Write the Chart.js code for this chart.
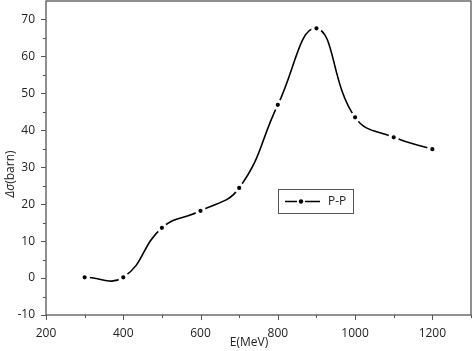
<!DOCTYPE html>
<html>
<head>
<meta charset="utf-8">
<script src="https://cdn.jsdelivr.net/npm/chart.js@4"></script>
<style>
    html, body { margin: 0; padding: 0; background: #fff; }
    #wrap { width: 472px; height: 351px; }
</style>
</head>
<body>
<div id="wrap"><canvas id="chart"></canvas></div>
<script>
const energy = [300, 400, 500, 600, 700, 800, 900, 1000, 1100, 1200];
const deltaSigma = [0.2, 0.2, 13.6, 18.2, 24.4, 46.9, 67.6, 43.5, 38.1, 34.9];
const xTickValues = [200, 400, 600, 800, 1000, 1200];
const yTickValues = [-10, 0, 10, 20, 30, 40, 50, 60, 70];
const seriesName = 'P-P';
const xTitle = 'E(MeV)';
const yTitleItalic = 'Δσ';
const yTitleRest = '(barn)';

const FONT = '"Open Sans", sans-serif';
const frameColor = '#555';

// frame, tick marks, axis titles and the legend box
const decorPlugin = {
    id: 'decor',
    afterDraw(chart) {
        const ctx = chart.ctx;
        const area = chart.chartArea;
        const xs = chart.scales.x;
        const ys = chart.scales.y;
        ctx.save();

        ctx.strokeStyle = frameColor;
        ctx.lineWidth = 1.3;
        ctx.strokeRect(area.left, area.top, area.right - area.left, area.bottom - area.top);

        ctx.lineWidth = 1;
        ctx.beginPath();
        for (let v = 200; v <= 1300; v += 100) {
            const px = Math.round(xs.getPixelForValue(v)) + 0.5;
            const len = v % 200 === 0 ? 5 : 3;
            ctx.moveTo(px, area.bottom);
            ctx.lineTo(px, area.bottom + len);
        }
        for (let v = -10; v <= 70; v += 5) {
            const py = Math.round(ys.getPixelForValue(v)) + 0.5;
            const len = v % 10 === 0 ? 5 : 3;
            ctx.moveTo(area.left, py);
            ctx.lineTo(area.left - len, py);
        }
        ctx.stroke();

        // axis titles
        ctx.fillStyle = '#222';
        ctx.font = '12px ' + FONT;
        ctx.textAlign = 'center';
        ctx.textBaseline = 'middle';
        ctx.fillText(xTitle, 249, 343);

        ctx.save();
        ctx.translate(11, 174);
        ctx.rotate(-Math.PI / 2);
        ctx.font = 'italic 12px ' + FONT;
        const w1 = ctx.measureText(yTitleItalic).width;
        ctx.font = '12px ' + FONT;
        const w2 = ctx.measureText(yTitleRest).width;
        let x0 = -(w1 + w2) / 2;
        ctx.textAlign = 'left';
        ctx.font = 'italic 12px ' + FONT;
        ctx.fillText(yTitleItalic, x0, 0);
        ctx.font = '12px ' + FONT;
        ctx.fillText(yTitleRest, x0 + w1, 0);
        ctx.restore();

        // legend
        const lx = 278.5, ly = 189.5, lw = 75, lh = 24;
        ctx.strokeStyle = frameColor;
        ctx.lineWidth = 1;
        ctx.strokeRect(lx, ly, lw, lh);
        const my = ly + lh / 2;
        ctx.strokeStyle = '#000';
        ctx.lineWidth = 1.6;
        ctx.beginPath();
        ctx.moveTo(285, my); ctx.lineTo(297, my);
        ctx.moveTo(305, my); ctx.lineTo(320, my);
        ctx.stroke();
        ctx.fillStyle = '#000';
        ctx.beginPath();
        ctx.arc(301, my, 2.2, 0, Math.PI * 2);
        ctx.fill();
        ctx.fillStyle = '#222';
        ctx.textAlign = 'left';
        ctx.fillText(seriesName, 328, my);

        ctx.restore();
    }
};

const ctx = document.getElementById('chart').getContext('2d');
const chart = new Chart(ctx, {
    type: 'line',
    data: {
        datasets: [{
            label: seriesName,
            data: energy.map((e, i) => ({ x: e, y: deltaSigma[i] })),
            borderColor: '#000',
            borderWidth: 1.6,
            tension: 0.45,
            pointRadius: 3.7,
            pointBackgroundColor: '#000',
            pointBorderColor: '#fff',
            pointBorderWidth: 3.2,
            fill: false
        }]
    },
    options: {
        responsive: true,
        maintainAspectRatio: false,
        animation: false,
        layout: { autoPadding: false, padding: { top: 1, right: 1, left: 0, bottom: 0 } },
        plugins: {
            legend: { display: false },
            tooltip: { enabled: false }
        },
        scales: {
            x: {
                type: 'linear',
                min: 200,
                max: 1300,
                grid: { display: false, drawTicks: false },
                border: { display: false },
                ticks: {
                    padding: 11,
                    color: '#222',
                    autoSkip: false,
                    font: { family: FONT, size: 12 },
                    maxRotation: 0,
                    callback: (v) => String(v)
                },
                afterBuildTicks: (scale) => {
                    scale.ticks = xTickValues.map(v => ({ value: v }));
                },
                afterFit: (scale) => {
                    scale.height = 36;
                    scale.paddingLeft = 0;
                    scale.paddingRight = 0;
                }
            },
            y: {
                type: 'linear',
                min: -10,
                max: 75,
                grid: { display: false, drawTicks: false },
                border: { display: false },
                ticks: {
                    padding: 11,
                    color: '#222',
                    autoSkip: false,
                    font: { family: FONT, size: 12 },
                    callback: (v) => String(v)
                },
                afterBuildTicks: (scale) => {
                    scale.ticks = yTickValues.map(v => ({ value: v }));
                },
                afterFit: (scale) => {
                    scale.width = 46;
                    scale.paddingTop = 0;
                    scale.paddingBottom = 0;
                }
            }
        }
    },
    plugins: [decorPlugin]
});
</script>
</body>
</html>
